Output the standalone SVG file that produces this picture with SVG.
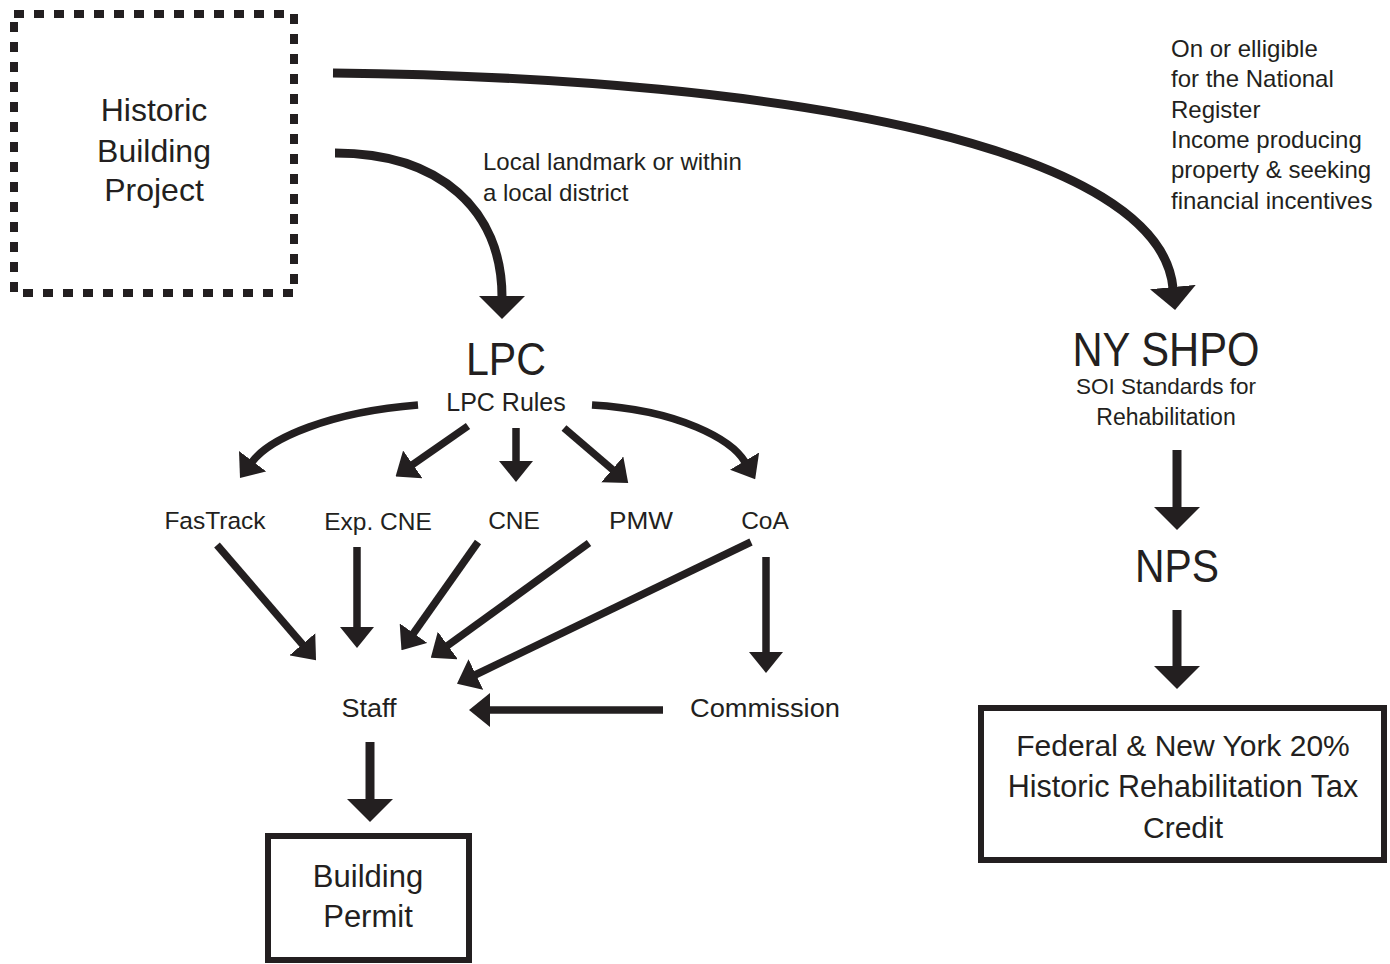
<svg xmlns="http://www.w3.org/2000/svg" width="1390" height="964" viewBox="0 0 1390 964">
<style>
text{font-family:"Liberation Sans",Arial,sans-serif;fill:#231f20;text-anchor:middle}
.lbl{text-anchor:start;font-size:24px}
.c{fill:none;stroke:#231f20;stroke-linecap:butt}
.big{stroke-width:9}
.sm{stroke-width:7.5}
.box{fill:#fff;stroke:#231f20;stroke-width:6}
</style>
<defs>
<marker id="hb" markerUnits="userSpaceOnUse" viewBox="0 0 23 46" markerWidth="23" markerHeight="46" refX="1" refY="23" orient="auto">
<path d="M0,0 L23,23 L0,46 Z" fill="#231f20"/>
</marker>
<marker id="hs" markerUnits="userSpaceOnUse" viewBox="0 0 21 34" markerWidth="21" markerHeight="34" refX="1" refY="17" orient="auto">
<path d="M0,0 L21,17 L0,34 Z" fill="#231f20"/>
</marker>
</defs>

<g id="connectors">
<path class="c big" d="M335,153 C440,153 502,210 502,297" marker-end="url(#hb)"/>
<path class="c big" d="M333,73 C800,78 1160,150 1173,288" marker-end="url(#hb)"/>
<path class="c big" d="M1177,450 L1177,508" marker-end="url(#hb)"/>
<path class="c big" d="M1177,610 L1177,667" marker-end="url(#hb)"/>
<path class="c big" d="M370,742 L370,800" marker-end="url(#hb)"/>
<path class="c sm" d="M418,405 C330,412 270,438 252,462" marker-end="url(#hs)"/>
<path class="c sm" d="M468,426 L412,465" marker-end="url(#hs)"/>
<path class="c sm" d="M516,428 L516,462" marker-end="url(#hs)"/>
<path class="c sm" d="M564,428 L613,470" marker-end="url(#hs)"/>
<path class="c sm" d="M592,405 C680,410 732,440 745,462" marker-end="url(#hs)"/>
<path class="c sm" d="M217,545 L303,645" marker-end="url(#hs)"/>
<path class="c sm" d="M357,547 L357,628" marker-end="url(#hs)"/>
<path class="c sm" d="M478,542 L413,634" marker-end="url(#hs)"/>
<path class="c sm" d="M589,543 L447,646" marker-end="url(#hs)"/>
<path class="c sm" d="M751,542 L475,675" marker-end="url(#hs)"/>
<path class="c sm" d="M766,557 L766,653" marker-end="url(#hs)"/>
<path class="c sm" d="M663,710 L489,710" marker-end="url(#hs)"/>
<text class="lbl" x="483" y="170">Local landmark or within</text>
<text class="lbl" x="483" y="201">a local district</text>
<text class="lbl" x="1171" y="57">On or elligible</text>
<text class="lbl" x="1171" y="87">for the National</text>
<text class="lbl" x="1171" y="118">Register</text>
<text class="lbl" x="1171" y="148">Income producing</text>
<text class="lbl" x="1171" y="178">property &amp; seeking</text>
<text class="lbl" x="1171" y="209">financial incentives</text>
</g>

<g id="historic-building-project">
<rect x="14" y="14" width="280" height="279" fill="none" stroke="#231f20" stroke-width="8" stroke-dasharray="10 10"/>
<text x="154" y="121" font-size="32">Historic</text>
<text x="154" y="162" font-size="32">Building</text>
<text x="154" y="201" font-size="32">Project</text>
</g>

<g id="lpc">
<text x="506" y="375" font-size="46" textLength="80" lengthAdjust="spacingAndGlyphs">LPC</text>
<text x="506" y="411" font-size="25">LPC Rules</text>
</g>

<g id="fastrack"><text x="215" y="529" font-size="24.5">FasTrack</text></g>
<g id="exp-cne"><text x="378" y="530" font-size="24.5">Exp. CNE</text></g>
<g id="cne"><text x="514" y="529" font-size="24.5">CNE</text></g>
<g id="pmw"><text x="641" y="529" font-size="24.5" textLength="64" lengthAdjust="spacingAndGlyphs">PMW</text></g>
<g id="coa"><text x="765" y="529" font-size="24.5">CoA</text></g>
<g id="staff"><text x="369" y="717" font-size="25" textLength="55" lengthAdjust="spacingAndGlyphs">Staff</text></g>
<g id="commission"><text x="765" y="717" font-size="25" textLength="150" lengthAdjust="spacingAndGlyphs">Commission</text></g>

<g id="building-permit">
<rect class="box" x="268" y="836" width="201" height="124"/>
<text x="368" y="887" font-size="31">Building</text>
<text x="368" y="927" font-size="31">Permit</text>
</g>

<g id="ny-shpo">
<text x="1166" y="366" font-size="48" textLength="187" lengthAdjust="spacingAndGlyphs">NY SHPO</text>
<text x="1166" y="394" font-size="22.5">SOI Standards for</text>
<text x="1166" y="425" font-size="23">Rehabilitation</text>
</g>

<g id="nps">
<text x="1177" y="582" font-size="46" textLength="84" lengthAdjust="spacingAndGlyphs">NPS</text>
</g>

<g id="tax-credit">
<rect class="box" x="981" y="708" width="403" height="152"/>
<text x="1183" y="756" font-size="30">Federal &amp; New York 20%</text>
<text x="1183" y="797" font-size="30.5">Historic Rehabilitation Tax</text>
<text x="1183" y="838" font-size="30">Credit</text>
</g>
</svg>
